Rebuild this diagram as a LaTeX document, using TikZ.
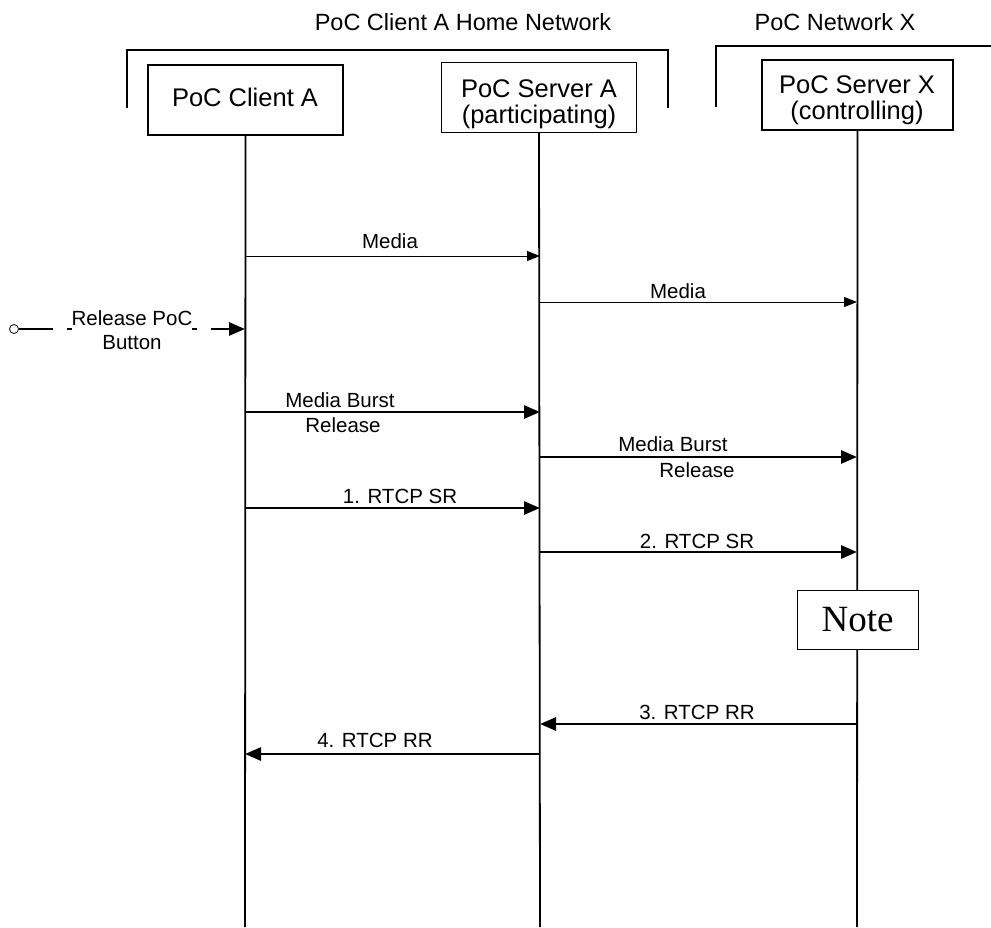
\documentclass[tikz,border=0pt]{standalone}
\usepackage{fontspec}
\setmainfont{Liberation Sans}
\newfontfamily\notefont{Liberation Serif}
\usetikzlibrary{arrows.meta}

\tikzset{
    entity/.style={draw,line width=1.3pt,minimum width=195pt,minimum height=70pt,inner sep=0pt},
    entitytxt/.style={font=\fontsize{25.5}{26}\selectfont,align=center,inner sep=0pt},
    nettxt/.style={font=\fontsize{23.5}{26}\selectfont,inner sep=0pt},
    lifeline/.style={line width=1.8pt},
    msg/.style={line width=0.9pt,-{Triangle[length=13pt,width=10pt]}},
    bigmsg/.style={line width=2.8pt,-{Triangle[length=16pt,width=13pt]}},
    lbl/.style={font=\fontsize{20.5}{24}\selectfont,align=center,inner sep=1pt}
}

\begin{document}
\begin{tikzpicture}[x=1pt,y=-1pt]
    \useasboundingbox (0,0) rectangle (991,927);

    % Network titles and brackets
    \node[nettxt] (homenet) at (463,22) {PoC Client A Home Network};
    \node[nettxt] (netx) at (835,22) {PoC Network X};
    \draw[line width=1.3pt] (127,108) -- (127,50) -- (668,50) -- (668,108);
    \draw[line width=1.3pt] (716,107) -- (716,46) -- (991,46);

    % Entities
    \node[entity] (clia) at (245.5,100) {};
    \node[entitytxt] (cliatxt) at (245,97) {PoC Client A};
    \node[entity] (srva) at (539,97.5) {};
    \node[entitytxt] (srvatxt) at (539,104) {PoC Server A\\(participating)};
    \node[entity,minimum width=191pt] (srvx) at (857.5,95) {};
    \node[entitytxt] (srvxtxt) at (857,100) {PoC Server X\\(controlling)};

    % Lifelines
    \coordinate (cliaend) at (245,927);
    \coordinate (srvaend) at (540,927);
    \coordinate (srvxend) at (857,927);
    \draw[lifeline] (clia.south) -- (cliaend);
    \draw[lifeline] (srva.south) -- (srvaend);
    \draw[lifeline] (srvx.south) -- (srvxend);

    % Message end points on the lifelines
    \coordinate (a1) at (245,256);  \coordinate (b1) at (540,256);
    \coordinate (b2) at (540,302);  \coordinate (c2) at (857,302);
    \coordinate (a3) at (245,412);  \coordinate (b3) at (540,412);
    \coordinate (b4) at (540,457);  \coordinate (c4) at (857,457);
    \coordinate (a5) at (245,508);  \coordinate (b5) at (540,508);
    \coordinate (b6) at (540,552);  \coordinate (c6) at (857,552);
    \coordinate (c7) at (857,724);  \coordinate (b7) at (540,724);
    \coordinate (b8) at (540,754);  \coordinate (a8) at (245,754);

    % Release PoC Button
    \node[draw,circle,line width=0.8pt,minimum size=9pt,inner sep=0pt,fill=white] (btn) at (14,329) {};
    \coordinate (a0) at (245,329);
    \draw[line width=2.8pt,dash pattern=on 34pt off 14pt,-{Triangle[length=16pt,width=13pt]}] (btn.east) -- (a0);
    \node[lbl,fill=white,inner sep=0pt] (btntxt) at (132,330) {Release PoC\\Button};

    % Messages
    \draw[msg] (a1) -- (b1);
    \node[lbl] (m1) at (390,241) {Media};
    \draw[msg] (b2) -- (c2);
    \node[lbl] (m2) at (678,291) {Media};
    \draw[bigmsg] (a3) -- (b3);
    \node[lbl] (m3a) at (340,400) {Media Burst};
    \node[lbl] (m3b) at (343,425) {Release};
    \draw[bigmsg] (b4) -- (c4);
    \node[lbl] (m4a) at (673,444) {Media Burst};
    \node[lbl] (m4b) at (697,470) {Release};
    \draw[bigmsg] (a5) -- (b5);
    \node[lbl] (m5) at (400,496) {1. RTCP SR};
    \draw[bigmsg] (b6) -- (c6);
    \node[lbl] (m6) at (697,541) {2. RTCP SR};

    % Note
    \node[draw,line width=1pt,fill=white,minimum width=121pt,minimum height=59pt,font=\notefont\fontsize{37}{40}\selectfont] (note) at (857.5,619.5) {Note};

    \draw[bigmsg] (c7) -- (b7);
    \node[lbl] (m7) at (697,712) {3. RTCP RR};
    \draw[bigmsg] (b8) -- (a8);
    \node[lbl] (m8) at (375,740) {4. RTCP RR};
\end{tikzpicture}
\end{document}
